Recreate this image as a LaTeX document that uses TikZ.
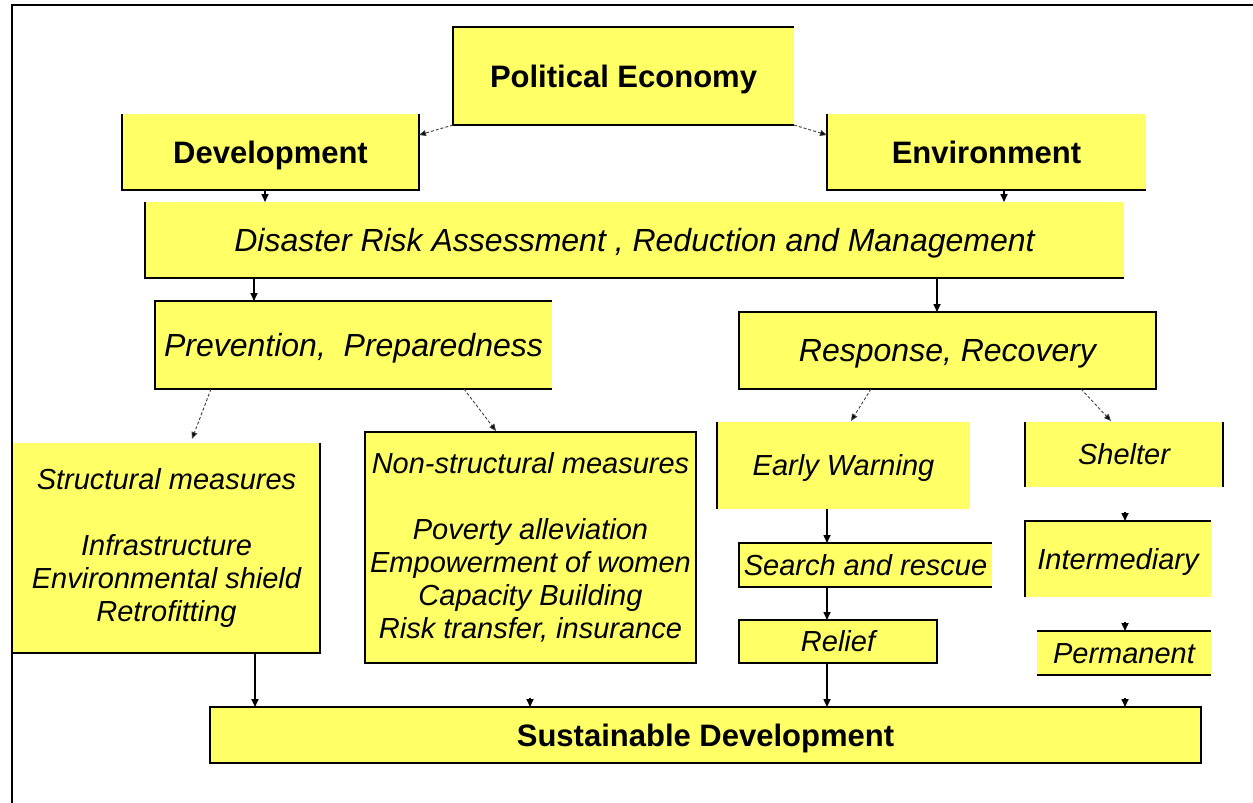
\documentclass[tikz,border=0pt]{standalone}
\usepackage{fontspec}
\setmainfont{Liberation Sans}
\usetikzlibrary{arrows.meta,calc}
\definecolor{boxyellow}{RGB}{255,255,102}
\begin{document}
\begin{tikzpicture}[x=1pt,y=-1pt,
  box/.style={rectangle, fill=boxyellow, inner sep=0pt, outer sep=0pt, align=center},
  boldtxt/.style={font=\fontsize{31}{36}\selectfont\bfseries, text height=22.2pt, text depth=0pt},
  bigit/.style={font=\fontsize{32}{37}\selectfont\itshape, text height=22.9pt, text depth=0pt},
  smallit/.style={font=\fontsize{29}{33}\selectfont\itshape, text height=20.8pt, text depth=0pt},
  multit/.style={font=\fontsize{29}{33}\selectfont\itshape},
  edge/.style={line width=2pt, draw=black, line join=miter},
  sarr/.style={line width=1.6pt, draw=black, -{Triangle[length=8pt,width=7pt]}},
  darr/.style={line width=0.9pt, draw=black!75, dash pattern=on 3pt off 2pt, -{Triangle[length=7pt,width=6pt,fill=black]}}
]
\useasboundingbox (0,0) rectangle (1253,803);
\fill[white] (0,0) rectangle (1253,803);

% frame (top and left only)
\coordinate (ftr) at (1253,5);
\coordinate (ftl) at (12,5);
\coordinate (fbl) at (12,803);
\draw[edge] (ftr) -- (ftl) -- (fbl);

% nodes
\node[box, boldtxt, minimum width=341, minimum height=98] (pe) at (623.5,76) {Political Economy};
\node[box, boldtxt, minimum width=297, minimum height=76] (dev) at (270.5,152) {Development};
\node[box, boldtxt, minimum width=319, minimum height=76] (env) at (986.5,152) {Environment};
\node[box, bigit, minimum width=979, minimum height=76] (dra) at (634.5,240) {Disaster Risk Assessment , Reduction and Management};
\node[box, bigit, minimum width=397, minimum height=88] (prev) at (353.5,345) {Prevention,\ \ Preparedness};
\node[box, bigit, minimum width=417, minimum height=77] (resp) at (947.5,350.5) {Response, Recovery};
\node[box, multit, minimum width=307, minimum height=210] (str) at (166.5,548)
  {Structural measures\\[33pt]Infrastructure\\Environmental shield\\Retrofitting};
\node[box, multit, minimum width=331, minimum height=231] (ns) at (530.5,547.5)
  {Non-structural measures\\[33pt]Poverty alleviation\\Empowerment of women\\Capacity Building\\Risk transfer, insurance};
\node[box, smallit, minimum width=253, minimum height=87] (ew) at (843.5,465.5) {Early Warning};
\node[box, smallit, minimum width=198, minimum height=65] (sh) at (1124,454.5) {Shelter};
\node[box, smallit, minimum width=253, minimum height=44] (sr) at (865.5,565) {Search and rescue};
\node[box, smallit, minimum width=198, minimum height=43] (rel) at (838,641.5) {Relief};
\node[box, smallit, minimum width=186, minimum height=76] (int) at (1118,559) {Intermediary};
\node[box, smallit, minimum width=174, minimum height=44] (perm) at (1124,653) {Permanent};
\node[box, boldtxt, minimum width=991, minimum height=56] (sd) at (705.5,735) {Sustainable Development};

% visible box borders
\draw[edge] (pe.north east) -- (pe.north west) -- (pe.south west) -- (pe.south east);
\draw[edge] (dev.north west) -- (dev.south west) -- (dev.south east) -- (dev.north east);
\draw[edge] (env.north west) -- (env.south west) -- (env.south east);
\draw[edge] (dra.north west) -- (dra.south west) -- (dra.south east);
\draw[edge] (prev.south east) -- (prev.south west) -- (prev.north west) -- (prev.north east);
\draw[edge] (resp.north west) rectangle (resp.south east);
\draw[edge] (str.north east) -- (str.south east) -- (str.south west);
\draw[edge] (ns.north west) rectangle (ns.south east);
\draw[edge] (ew.north west) -- (ew.south west);
\draw[edge] (sh.north west) -- (sh.south west);
\draw[edge] (sh.north east) -- (sh.south east);
\draw[edge] (sr.north east) -- (sr.north west) -- (sr.south west) -- (sr.south east);
\draw[edge] (rel.north west) rectangle (rel.south east);
\draw[edge] (int.north east) -- (int.north west) -- (int.south west);
\draw[edge] (perm.north west) -- (perm.north east);
\draw[edge] (perm.south west) -- (perm.south east);
\draw[edge] (sd.north west) rectangle (sd.south east);

% dashed connectors
\draw[darr] (pe.south west) -- ($(dev.north east)+(0,21)$);
\draw[darr] (pe.south east) -- ($(env.north west)+(0,21)$);
\draw[darr] (prev.south -| 211,0) -- ($(str.north -| 192,0)+(0,-4)$);
\draw[darr] (prev.south -| 464,0) -- ($(ns.north -| 496,0)+(0,-1)$);
\draw[darr] (resp.south -| 871,0) -- ($(ew.north -| 851,0)+(0,-1)$);
\draw[darr] (resp.south -| 1081,0) -- ($(sh.north -| 1111,0)+(0,-1)$);

% solid connectors
\draw[sarr] (dev.south -| 265,0) -- (dra.north -| 265,0);
\draw[sarr] (env.south -| 1004,0) -- (dra.north -| 1004,0);
\draw[sarr] (dra.south -| 254,0) -- (prev.north -| 254,0);
\draw[sarr] (dra.south -| 937,0) -- (resp.north -| 937,0);
\draw[sarr] (ew.south -| 827,0) -- (sr.north -| 827,0);
\draw[sarr] (sr.south -| 827,0) -- (rel.north -| 827,0);
\draw[sarr] (rel.south -| 827,0) -- (sd.north -| 827,0);
\draw[sarr] (str.south -| 255,0) -- (sd.north -| 255,0);

% arrow tips whose lines are not shown
\coordinate (nsend) at ($(sd.north -| 530,0)+(0,-9)$);
\coordinate (shend) at ($(int.north -| 1125,0)+(0,-9)$);
\coordinate (intend) at ($(perm.north -| 1125,0)+(0,-9)$);
\coordinate (permend) at ($(sd.north -| 1125,0)+(0,-9)$);
\draw[sarr] (nsend) -- (sd.north -| 530,0);
\draw[sarr] (shend) -- (int.north -| 1125,0);
\draw[sarr] (intend) -- (perm.north -| 1125,0);
\draw[sarr] (permend) -- (sd.north -| 1125,0);
\end{tikzpicture}
\end{document}
